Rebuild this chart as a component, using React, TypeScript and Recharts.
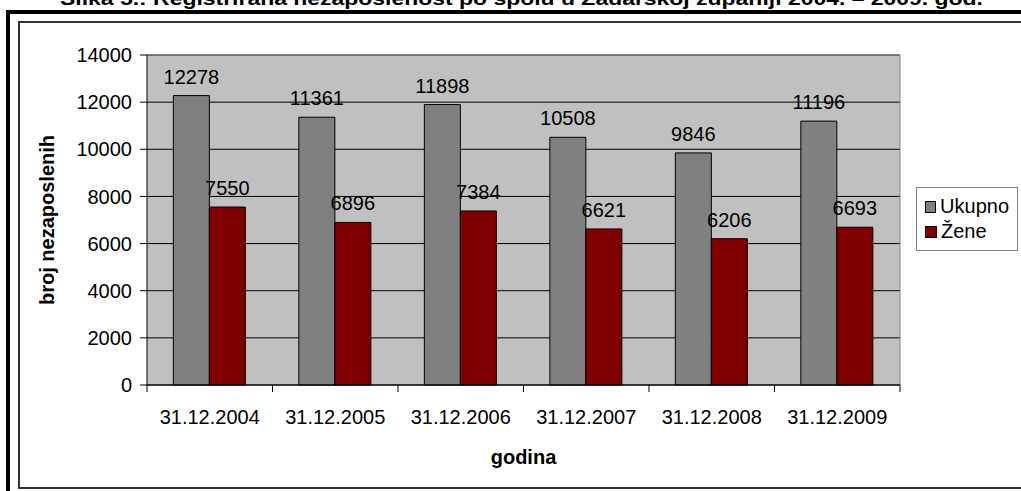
import { Bar, BarChart, CartesianGrid, LabelList, Legend, XAxis, YAxis } from "recharts";

const categories = ["31.12.2004", "31.12.2005", "31.12.2006", "31.12.2007", "31.12.2008", "31.12.2009"];
const ukupno = [12278, 11361, 11898, 10508, 9846, 11196];
const zene = [7550, 6896, 7384, 6621, 6206, 6693];
const yTicks = [0, 2000, 4000, 6000, 8000, 10000, 12000, 14000];

const title = "Slika 5.: Registrirana nezaposlenost po spolu u Zadarskoj županiji 2004. – 2009. god.";

const data = categories.map((c, i) => ({ name: c, Ukupno: ukupno[i], Žene: zene[i] }));

const W = 1021;
const H = 491;
const margin = { top: 55, right: 121, bottom: 76, left: 87 };
const Y_W = 60;
const X_H = 30;
const plotW = W - margin.left - Y_W - margin.right;
const half = plotW / categories.length / 2;

const FONT = "'Liberation Sans', Arial, sans-serif";
const FS = 20;

const XTick = (props: any) => {
  const { x, y, payload, index } = props;
  return (
    <g>
      <line x1={x - half} x2={x - half} y1={y} y2={y + 7} stroke="#000" />
      {index === categories.length - 1 && <line x1={x + half} x2={x + half} y1={y} y2={y + 7} stroke="#000" />}
      <text x={x} y={y + 32} dy="0.355em" textAnchor="middle" fontSize={FS} fill="#000" fontFamily={FONT}>
        {payload.value}
      </text>
    </g>
  );
};

const YTitle = ({ viewBox }: any) => {
  const cx = viewBox.x - 40;
  const cy = viewBox.y + viewBox.height / 2;
  return (
    <text
      x={cx}
      y={cy}
      transform={`rotate(-90 ${cx} ${cy})`}
      textAnchor="middle"
      dy="0.355em"
      fontSize={FS}
      fontWeight="bold"
      fill="#000"
      fontFamily={FONT}
    >
      broj nezaposlenih
    </text>
  );
};

const LegendBox = (props: any) => (
  <div
    style={{
      border: "1px solid #808080",
      background: "#fff",
      padding: "6px 8px",
      fontFamily: FONT,
      fontSize: FS,
      color: "#000",
      width: 84,
    }}
  >
    {(props.payload || []).map((p: any) => (
      <div key={p.value} style={{ display: "flex", alignItems: "center", height: 25 }}>
        <span style={{ width: 10, height: 10, background: p.color, border: "1px solid #000", marginRight: 4 }} />
        <span>{p.value}</span>
      </div>
    ))}
  </div>
);

export default function App() {
  return (
    <div style={{ position: "relative", width: W, height: H, overflow: "hidden", background: "#fff" }}>
      <style>{"body{margin:0}"}</style>
      <svg style={{ position: "absolute", left: 0, top: 0 }} width={W} height={12}>
        <text x={60} y={5} textLength={923} lengthAdjust="spacingAndGlyphs" fontFamily={FONT} fontWeight="bold" fontSize={19} fill="#000">
          {title}
        </text>
      </svg>
      <div style={{ position: "absolute", left: 6, top: 10, width: 1100, height: 600, borderLeft: "4px solid #000", borderTop: "4px solid #000" }} />
      <div style={{ position: "absolute", left: 18, top: 21, width: 1100, height: 464, border: "2px solid #333" }} />
      <div style={{ position: "absolute", left: 0, top: 0 }}>
        <BarChart width={W} height={H} data={data} margin={margin} barGap={0} barCategoryGap="21%">
          <CartesianGrid fill="#C0C0C0" stroke="#000" vertical={false} />
          <CartesianGrid
            stroke="#808080"
            horizontalCoordinatesGenerator={({ offset }: any) => [offset.top]}
            verticalCoordinatesGenerator={({ offset }: any) => [offset.left + offset.width]}
          />
          <XAxis
            dataKey="name"
            height={X_H}
            interval={0}
            tickLine={false}
            tickSize={0}
            tickMargin={0}
            axisLine={{ stroke: "#000" }}
            tick={<XTick />}
            label={{ value: "godina", position: "bottom", offset: 35, fontSize: FS, fontWeight: "bold", fill: "#000", fontFamily: FONT }}
          />
          <YAxis
            width={Y_W}
            domain={[0, 14000]}
            ticks={yTicks}
            interval={0}
            tickSize={7}
            tickMargin={8}
            axisLine={{ stroke: "#000" }}
            tickLine={{ stroke: "#000" }}
            tick={{ fontSize: FS, fill: "#000", fontFamily: FONT }}
            label={{ content: <YTitle /> }}
          />
          <Legend
            layout="vertical"
            align="center"
            verticalAlign="middle"
            content={<LegendBox />}
            wrapperStyle={{ left: 916, top: 187, width: 102 }}
          />
          <Bar dataKey="Ukupno" fill="#808080" stroke="#000" strokeWidth={1} isAnimationActive={false}>
            <LabelList dataKey="Ukupno" position="top" offset={12} fontSize={FS} fill="#000" fontFamily={FONT} />
          </Bar>
          <Bar dataKey="Žene" fill="#800000" stroke="#000" strokeWidth={1} isAnimationActive={false}>
            <LabelList dataKey="Žene" position="top" offset={12} fontSize={FS} fill="#000" fontFamily={FONT} />
          </Bar>
        </BarChart>
      </div>
    </div>
  );
}
